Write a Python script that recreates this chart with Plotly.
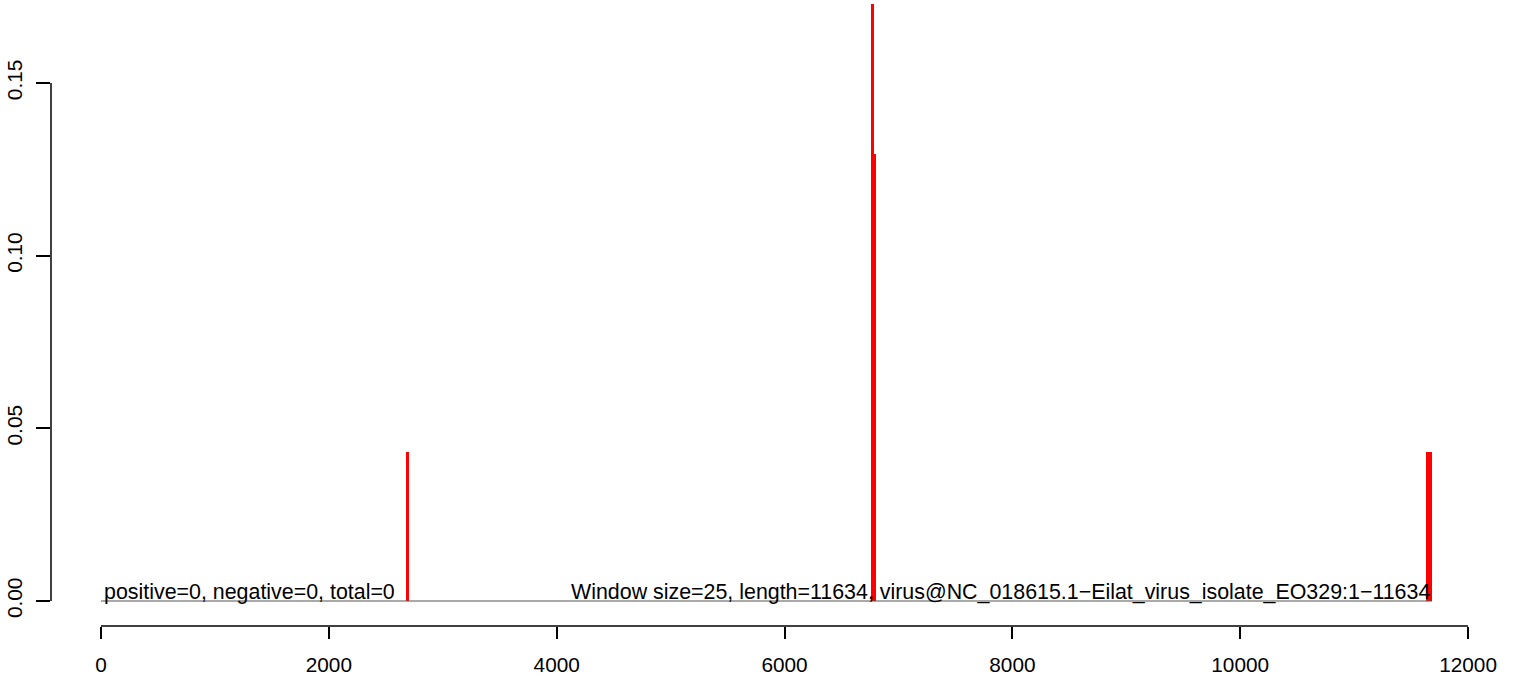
import plotly.graph_objects as go

# Window data (sequence coordinates) and values
win_start = [2677, 6759, 6759, 11631]
win_end = [2704, 6803, 6786, 11684]
win_value = [0.0431, 0.1294, 0.1728, 0.0431]

baseline_start = 0
baseline_end = 11684

x_ticks = [0, 2000, 4000, 6000, 8000, 10000, 12000]
y_ticks = [0.00, 0.05, 0.10, 0.15]

label_left = "positive=0, negative=0, total=0"
label_right = "Window size=25, length=11634, virus@NC_018615.1\u2212Eilat_virus_isolate_EO329:1\u221211634"

FONT = "Liberation Sans, Arial, sans-serif"
FS_AXIS = 20.8
FS_TEXT = 21.4

centers = [(s + e) / 2 for s, e in zip(win_start, win_end)]
widths = [e - s for s, e in zip(win_start, win_end)]

fig = go.Figure()

# baseline
fig.add_trace(go.Scatter(
    x=[baseline_start, baseline_end], y=[0, 0], mode="lines",
    line=dict(color="#555555", width=1.2), hoverinfo="skip", showlegend=False))

fig.add_trace(go.Bar(
    x=centers, y=win_value, width=widths, base=0,
    marker=dict(color="#ff0000", line=dict(width=0)),
    showlegend=False))

fig.update_layout(
    width=1513, height=676,
    margin=dict(l=51, r=25, t=0, b=50, autoexpand=False),
    paper_bgcolor="white", plot_bgcolor="white",
    font=dict(family=FONT, size=FS_AXIS, color="black"),
    bargap=0,
    xaxis=dict(
        range=[-439, 12175], tickvals=x_ticks, ticktext=[str(v) for v in x_ticks],
        ticks="outside", ticklen=12, tickwidth=1.5, tickcolor="black",
        showline=False, showgrid=False, zeroline=False, automargin=False,
        ticklabelstandoff=8, tickfont=dict(family=FONT, size=FS_AXIS)),
    yaxis=dict(
        range=[-0.00724, 0.17405], tickvals=y_ticks, ticktext=[f"{v:.2f}" for v in y_ticks],
        ticks="outside", ticklen=14, tickwidth=1.5, tickcolor="black",
        tickangle=-90,
        showline=False, showgrid=False, zeroline=False, automargin=False,
        ticklabelstandoff=6, tickfont=dict(family=FONT, size=FS_AXIS)),
)

# axis lines spanning tick ranges (R style)
fig.add_shape(type="line", xref="x", yref="paper", x0=x_ticks[0], x1=x_ticks[-1], y0=0, y1=0,
              line=dict(color="black", width=1.5))
fig.add_shape(type="line", xref="paper", yref="y", x0=0, x1=0, y0=y_ticks[0], y1=y_ticks[-1],
              line=dict(color="black", width=1.5))

fig.add_annotation(x=10, y=0, xref="x", yref="y", text=label_left, showarrow=False,
                   xanchor="left", yanchor="bottom", yshift=-5,
                   font=dict(family=FONT, size=FS_TEXT, color="black"))
fig.add_annotation(x=baseline_end, y=0, xref="x", yref="y", text=label_right, showarrow=False,
                   xanchor="right", yanchor="bottom", yshift=-5,
                   font=dict(family=FONT, size=FS_TEXT, color="black"))

fig.write_html("out.html", config={"displayModeBar": False},
               post_script="document.body.style.margin='0';document.body.style.overflow='hidden';")
